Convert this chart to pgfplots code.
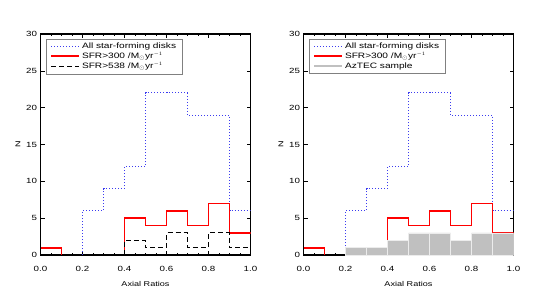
\documentclass[border=0pt]{standalone}
\usepackage{fontspec}
\setmainfont{Liberation Sans}[FakeStretch=1.3]
\usepackage{pgfplots}
\pgfplotsset{compat=1.18}
\definecolor{lblue}{RGB}{60,60,240}
\definecolor{azgray}{RGB}{192,192,192}
\definecolor{sred}{RGB}{255,0,0}
\begin{document}
\begin{tikzpicture}[x=1pt,y=1pt]
\useasboundingbox (0,0) rectangle (555,293);
\pgfplotsset{
 hist/.style={
  scale only axis, width=210pt, height=221pt,
  xmin=0,xmax=1,ymin=0,ymax=30,
  xtick={0,0.2,0.4,0.6,0.8,1.0}, ytick={0,5,10,15,20,25,30},
  minor x tick num=3,
  tick align=inside, xtick pos=both, ytick pos=both,
  major tick length=4pt, minor tick length=2.2pt,
  every tick/.style={black, line width=0.6pt},
  xticklabel style={/pgf/number format/fixed, /pgf/number format/fixed zerofill, /pgf/number format/precision=1, yshift=-8pt},
  tick label style={font=\fontsize{7.5}{8}\selectfont},
  axis line style={line width=1.1pt},
  xlabel={Axial Ratios}, ylabel={N},
  label style={font=\fontsize{7}{8}\selectfont},
  xlabel style={yshift=-3pt},
  ylabel style={yshift=-1pt},
  /pgf/number format/assume math mode=true,
  legend style={at={(0.026,0.977)}, anchor=north west, font=\fontsize{7.8}{8.5}\selectfont,
    draw=gray, line width=0.5pt, inner xsep=4pt, inner ysep=1.5pt, row sep=-1.5pt},
  legend cell align=left,
  legend image code/.code={\draw[##1] (0pt,0pt) -- (28pt,0pt);},
 },
 redh/.style={draw=sred, line width=1.8pt, line join=miter, sharp plot, mark=none},
}
% left panel
\begin{axis}[hist, at={(40.5pt,38pt)}, anchor=south west]
\addplot[color=lblue, dash pattern=on 1pt off 2pt, line width=1pt, const plot mark left] coordinates {
 (0.2,0) (0.2,6) (0.3,9) (0.4,12) (0.5,22) (0.6,22) (0.7,19) (0.8,19) (0.9,6) (1.0,6)};
\addlegendentry{All star-forming disks}
\addplot[redh] coordinates {
 (0.4,0) (0.4,5) (0.5,5) (0.5,4) (0.6,4) (0.6,6) (0.7,6) (0.7,4) (0.8,4) (0.8,7) (0.9,7) (0.9,3) (1.0,3)};
\addlegendentry{SFR>300 /M$_{\odot}$yr$^{-1}$}
\addplot[color=black, dash pattern=on 5pt off 3pt, line width=1pt, const plot mark left] coordinates {
 (0.4,0) (0.4,2) (0.5,1) (0.6,3) (0.7,1) (0.8,3) (0.9,1) (1.0,1)};
\addlegendentry{SFR>538 /M$_{\odot}$yr$^{-1}$}
\addplot[redh, forget plot] coordinates {(0,1) (0.1,1) (0.1,0)};
\end{axis}
% right panel
\begin{axis}[hist, at={(303.5pt,38pt)}, anchor=south west]
\addplot[color=lblue, dash pattern=on 1pt off 2pt, line width=1pt, const plot mark left] coordinates {
 (0.2,0) (0.2,6) (0.3,9) (0.4,12) (0.5,22) (0.6,22) (0.7,19) (0.8,19) (0.9,6) (1.0,6)};
\addlegendentry{All star-forming disks}
\addplot[redh] coordinates {
 (0.4,0) (0.4,5) (0.5,5) (0.5,4) (0.6,4) (0.6,6) (0.7,6) (0.7,4) (0.8,4) (0.8,7) (0.9,7) (0.9,3) (1.0,3)};
\addlegendentry{SFR>300 /M$_{\odot}$yr$^{-1}$}
\addplot[redh, forget plot] coordinates {(0,1) (0.1,1) (0.1,0)};
\addplot[ybar interval, fill=azgray, draw=gray!15, line width=0.4pt, forget plot] coordinates {
 (0.2,1) (0.3,1) (0.4,2) (0.5,3) (0.6,3) (0.7,2) (0.8,3) (0.9,3) (1.0,3)};
\addlegendimage{azgray, line width=1.5pt}
\addlegendentry{AzTEC sample}
\end{axis}
\end{tikzpicture}
\end{document}
